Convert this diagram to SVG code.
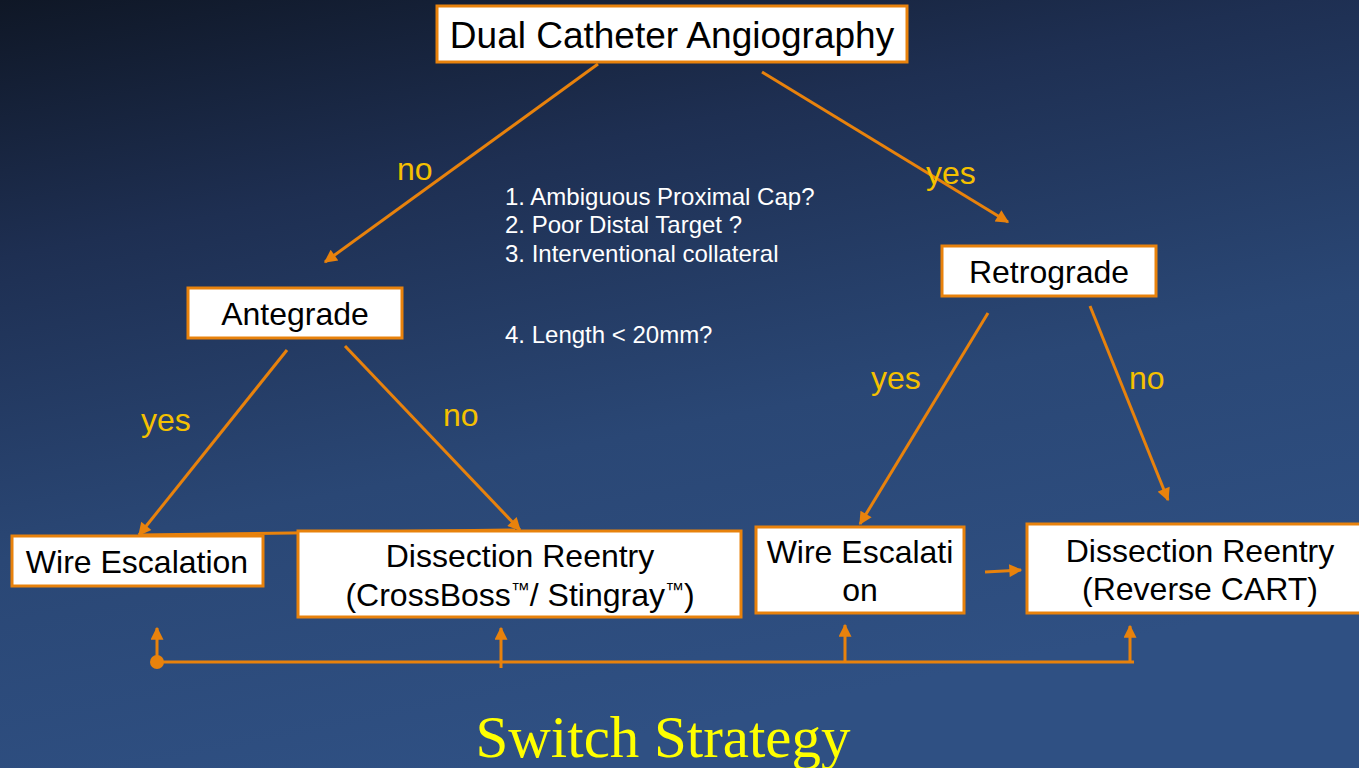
<svg xmlns="http://www.w3.org/2000/svg" width="1359" height="768" viewBox="0 0 1359 768">
<defs>
<linearGradient id="bg" x1="0" y1="0" x2="0.35" y2="1">
<stop offset="0" stop-color="#0f1726"/>
<stop offset="0.3" stop-color="#1e2f52"/>
<stop offset="0.65" stop-color="#2a4775"/>
<stop offset="1" stop-color="#2f5083"/>
</linearGradient>
<marker id="ah" viewBox="0 0 10 10" refX="9" refY="5" markerWidth="15" markerHeight="13" markerUnits="userSpaceOnUse" orient="auto">
<path d="M0,0 L10,5 L0,10 z" fill="#e8820c"/>
</marker>
<style>
.box{fill:#ffffff;stroke:#e8820c;stroke-width:3}
.bt{font-family:"Liberation Sans",Arial,sans-serif;font-size:32px;fill:#000000;text-anchor:middle}
.ln{stroke:#e8820c;stroke-width:3;fill:none}
.lbl{font-family:"Liberation Sans",Arial,sans-serif;font-size:32px;fill:#f5c000}
.q{font-family:"Liberation Sans",Arial,sans-serif;font-size:24px;fill:#ffffff}
.tm{font-size:19px}
</style>
</defs>
<rect x="0" y="0" width="1359" height="768" fill="url(#bg)"/>

<g id="connectors">
<line class="ln" x1="598" y1="64" x2="325" y2="262" marker-end="url(#ah)"/>
<line class="ln" x1="762" y1="72" x2="1008" y2="222" marker-end="url(#ah)"/>
<line class="ln" x1="287" y1="350" x2="139" y2="535" marker-end="url(#ah)"/>
<line class="ln" x1="345" y1="346" x2="520" y2="530" marker-end="url(#ah)"/>
<line class="ln" x1="139" y1="535" x2="515" y2="530"/>
<line class="ln" x1="988" y1="313" x2="860" y2="524" marker-end="url(#ah)"/>
<line class="ln" x1="1090" y1="306" x2="1168" y2="500" marker-end="url(#ah)"/>
<line class="ln" x1="985" y1="572" x2="1021" y2="570" marker-end="url(#ah)"/>
<line class="ln" x1="157" y1="662" x2="1134" y2="662"/>
<circle cx="157" cy="662" r="7" fill="#e8820c"/>
<line class="ln" x1="157" y1="662" x2="157" y2="628" marker-end="url(#ah)"/>
<line class="ln" x1="501" y1="668" x2="501" y2="628" marker-end="url(#ah)"/>
<line class="ln" x1="845" y1="662" x2="845" y2="625" marker-end="url(#ah)"/>
<line class="ln" x1="1130" y1="662" x2="1130" y2="626" marker-end="url(#ah)"/>
<text class="lbl" x="397" y="180">no</text>
<text class="lbl" x="926" y="184">yes</text>
<text class="lbl" x="141" y="431">yes</text>
<text class="lbl" x="443" y="426">no</text>
<text class="lbl" x="871" y="389">yes</text>
<text class="lbl" x="1129" y="389">no</text>
</g>

<g id="dual">
<rect class="box" x="437" y="6" width="470" height="56"/>
<text class="bt" x="672" y="48" style="font-size:37px">Dual Catheter Angiography</text>
</g>
<g id="antegrade">
<rect class="box" x="188" y="288" width="214" height="50"/>
<text class="bt" x="295" y="325">Antegrade</text>
</g>
<g id="retrograde">
<rect class="box" x="942" y="246" width="214" height="50"/>
<text class="bt" x="1049" y="283">Retrograde</text>
</g>
<g id="wire1">
<rect class="box" x="12" y="536" width="251" height="50"/>
<text class="bt" x="137" y="573">Wire Escalation</text>
</g>
<g id="dissection1">
<rect class="box" x="298" y="531" width="443" height="86"/>
<text class="bt" x="520" y="567">Dissection Reentry</text>
<text class="bt" x="520" y="606">(CrossBoss<tspan class="tm" baseline-shift="10">™</tspan>/ Stingray<tspan class="tm" baseline-shift="10">™</tspan>)</text>
</g>
<g id="wire2">
<rect class="box" x="756" y="527" width="208" height="86"/>
<text class="bt" x="860" y="563">Wire Escalati</text>
<text class="bt" x="860" y="601">on</text>
</g>
<g id="dissection2">
<rect class="box" x="1027" y="524" width="346" height="89"/>
<text class="bt" x="1200" y="562">Dissection Reentry</text>
<text class="bt" x="1200" y="600">(Reverse CART)</text>
</g>

<g id="questions">
<text class="q" x="505" y="205">1. Ambiguous Proximal Cap?</text>
<text class="q" x="505" y="233">2. Poor Distal Target ?</text>
<text class="q" x="505" y="262">3. Interventional collateral</text>
<text class="q" x="505" y="343">4. Length &lt; 20mm?</text>
</g>

<text x="663" y="757" font-family="'Liberation Serif','Times New Roman',serif" font-size="60" fill="#ffff00" text-anchor="middle" textLength="375" lengthAdjust="spacingAndGlyphs">Switch Strategy</text>
</svg>
